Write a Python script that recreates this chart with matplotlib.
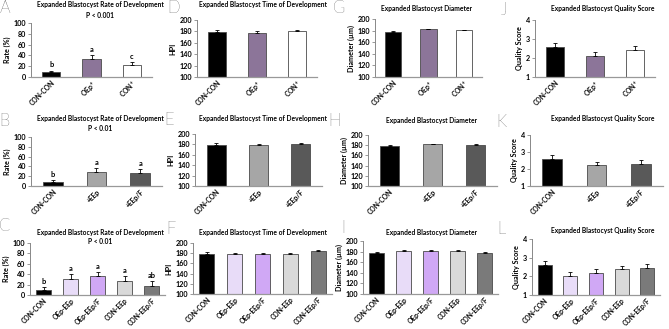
import matplotlib
matplotlib.use("Agg")
import matplotlib.pyplot as plt
import numpy as np

W, H = 669, 329
plt.rcParams['font.family'] = ['Lato', 'DejaVu Sans']
plt.rcParams['mathtext.fontset'] = 'custom'
plt.rcParams['mathtext.bf'] = 'Lato:bold'
plt.rcParams['mathtext.rm'] = 'Lato'

# ---------------- data ----------------
cats1 = ["CON-CON", "OEp$^{\\mathbf{+}}$", "CON$^{\\mathbf{+}}$"]
cats2 = ["CON-CON", "+EEp", "+EEp/F"]
cats3 = ["CON-CON", "OEp-EEp", "OEp-EEp/F", "CON-EEp", "CON-EEp/F"]

colors1 = ["#000000", "#8c7599", "#ffffff"]
colors2 = ["#000000", "#a6a6a6", "#595959"]
colors3 = ["#000000", "#e8dcf8", "#d0a8f5", "#d9d9d9", "#7a7a7a"]

rate_A = [9, 33, 22]
rate_A_err = [3, 7, 6]
rate_A_sig = ["b", "a", "c"]
time_D = [179, 178, 181]
time_D_err = [3, 2, 2]
diam_G = [178, 182, 180.5]
diam_G_err = [1.5, 1, 1]
qual_J = [2.6, 2.12, 2.42]
qual_J_err = [0.2, 0.18, 0.2]

rate_B = [9, 29, 27]
rate_B_err = [3, 8, 8]
rate_B_sig = ["b", "a", "a"]
time_E = [179, 179, 180]
time_E_err = [3, 2, 2]
diam_H = [179, 182, 181]
diam_H_err = [1.5, 1, 1]
qual_K = [2.6, 2.22, 2.32]
qual_K_err = [0.2, 0.17, 0.2]

rate_C = [9, 31, 36, 27, 17]
rate_C_err = [6, 9, 9, 9, 9]
rate_C_sig = ["b", "a", "a", "a", "ab"]
time_F = [179, 179, 178, 179, 184]
time_F_err = [3, 2, 2, 2, 3]
diam_I = [178, 182, 182, 182, 178]
diam_I_err = [1, 0.5, 1, 1, 1]
qual_L = [2.6, 2.03, 2.2, 2.37, 2.47]
qual_L_err = [0.2, 0.2, 0.2, 0.2, 0.2]

fig = plt.figure(figsize=(W / 100, H / 100), dpi=100)


def ax_at(l, t, r, b):
    return fig.add_axes([l / W, 1 - b / H, (r - l) / W, (b - t) / H])


def panel(box, cats, vals, errs, cols, ylim, yticks, ylabel, sig=None, sig_off=0):
    ax = ax_at(*box)
    x = np.arange(len(cats))
    bw = 0.45 if len(cats) == 3 else 0.54
    ax.bar(x, np.array(vals) - ylim[0], bottom=ylim[0], width=bw, color=cols,
           edgecolor="#4a4a4a", linewidth=0.6, zorder=2)
    ax.errorbar(x, vals, yerr=[np.zeros(len(vals)), errs], fmt="none",
                ecolor="#000000", elinewidth=0.6, capsize=1.3, capthick=0.6, zorder=3)
    if sig:
        for xi, v, e, s in zip(x, vals, errs, sig):
            ax.text(xi, v + e + sig_off, s, ha="center", va="bottom",
                    fontsize=5.3, fontweight="bold")
    ax.set_xlim(-0.5, len(cats) - 0.5)
    ax.set_ylim(*ylim)
    ax.set_yticks(yticks)
    ax.set_yticklabels([str(t) for t in yticks], fontsize=5.2, fontweight="bold")
    ax.set_xticks(x)
    ax.set_xticklabels(cats, rotation=45, ha="right", rotation_mode="anchor",
                       fontsize=4.9, fontweight="bold")
    ax.tick_params(axis="x", length=0, pad=1.5)
    ax.tick_params(axis="y", length=2, width=0.6, color="#888888", pad=1.5)
    for s in ["top", "right"]:
        ax.spines[s].set_visible(False)
    ax.spines["left"].set_color("#888888")
    ax.spines["left"].set_linewidth(0.7)
    ax.spines["bottom"].set_color("#999999")
    ax.spines["bottom"].set_linewidth(0.9)
    ax.set_ylabel(ylabel, fontsize=5.2, fontweight="bold", labelpad=2)
    ax.patch.set_alpha(0)
    return ax


def ftext(x, y, s, **kw):
    fig.text(x / W, 1 - y / H, s, **kw)


rate_ticks = [0, 20, 40, 60, 80, 100]
hpi_ticks = [100, 120, 140, 160, 180, 200]
q_ticks = [1, 2, 3, 4]

# Row 1
panel((31, 23, 152, 77), cats1, rate_A, rate_A_err, colors1, (0, 100), rate_ticks, "Rate (%)", rate_A_sig, 4)
panel((197, 20, 317, 77), cats1, time_D, time_D_err, colors1, (100, 200), hpi_ticks, "HPI")
panel((375, 19, 482, 77), cats1, diam_G, diam_G_err, colors1, (100, 200), hpi_ticks, "Diameter (\u00b5m)")
panel((535, 20, 655, 77), cats1, qual_J, qual_J_err, colors1, (1, 4), q_ticks, "Quality Score")
# Row 2
panel((31, 137, 162, 186), cats2, rate_B, rate_B_err, colors2, (0, 100), rate_ticks, "Rate (%)", rate_B_sig, 4)
panel((195, 134, 322, 186), cats2, time_E, time_E_err, colors2, (100, 200), hpi_ticks, "HPI")
panel((368, 135, 497, 186), cats2, diam_H, diam_H_err, colors2, (100, 200), hpi_ticks, "Diameter (\u00b5m)")
panel((530, 135, 663, 186), cats2, qual_K, qual_K_err, colors2, (1, 4), q_ticks, "Quality Score")
# Row 3
panel((30, 243, 165, 295), cats3, rate_C, rate_C_err, colors3, (0, 100), rate_ticks, "Rate (%)", rate_C_sig, 4)
panel((193, 243, 332, 294), cats3, time_F, time_F_err, colors3, (100, 200), hpi_ticks, "HPI")
panel((363, 241, 498, 294), cats3, diam_I, diam_I_err, colors3, (100, 200), hpi_ticks, "Diameter (\u00b5m)")
panel((532, 239, 660, 295), cats3, qual_L, qual_L_err, colors3, (1, 4), q_ticks, "Quality Score")

tkw = dict(fontsize=4.8, fontweight="bold", ha="center", va="center")
# titles
ftext(100, 5, "Expanded Blastocyst Rate of Development", **tkw)
ftext(100, 15, "P < 0.001", **tkw)
ftext(263, 5, "Expanded Blastocyst Time of Development", **tkw)
ftext(427, 9, "Expanded Blastocyst Diameter", **tkw)
ftext(603, 9, "Expanded Blastocyst Quality Score", **tkw)

ftext(100, 118, "Expanded Blastocyst Rate of Development", **tkw)
ftext(100, 128, "P < 0.01", **tkw)
ftext(263, 118, "Expanded Blastocyst Time of Development", **tkw)
ftext(432, 120, "Expanded Blastocyst Diameter", **tkw)
ftext(603, 118, "Expanded Blastocyst Quality Score", **tkw)

ftext(100, 233, "Expanded Blastocyst Rate of Development", **tkw)
ftext(100, 242, "P < 0.01", **tkw)
ftext(263, 233, "Expanded Blastocyst Time of Development", **tkw)
ftext(432, 233, "Expanded Blastocyst Diameter", **tkw)
ftext(603, 231, "Expanded Blastocyst Quality Score", **tkw)

lkw = dict(fontsize=12, fontweight="light", ha="left", va="center")
ftext(0, 8, "A", **lkw)
ftext(167, 8, "D", **lkw)
ftext(333, 8, "G", **lkw)
ftext(501, 10, "J", **lkw)
ftext(-1, 121, "B", **lkw)
ftext(164, 120, "E", **lkw)
ftext(328, 121, "H", **lkw)
ftext(496, 122, "K", **lkw)
ftext(-1, 226, "C", **lkw)
ftext(166, 229, "F", **lkw)
ftext(341, 228, "I", **lkw)
ftext(497, 229, "L", **lkw)

fig.savefig("out.png", dpi=100, facecolor="white")
